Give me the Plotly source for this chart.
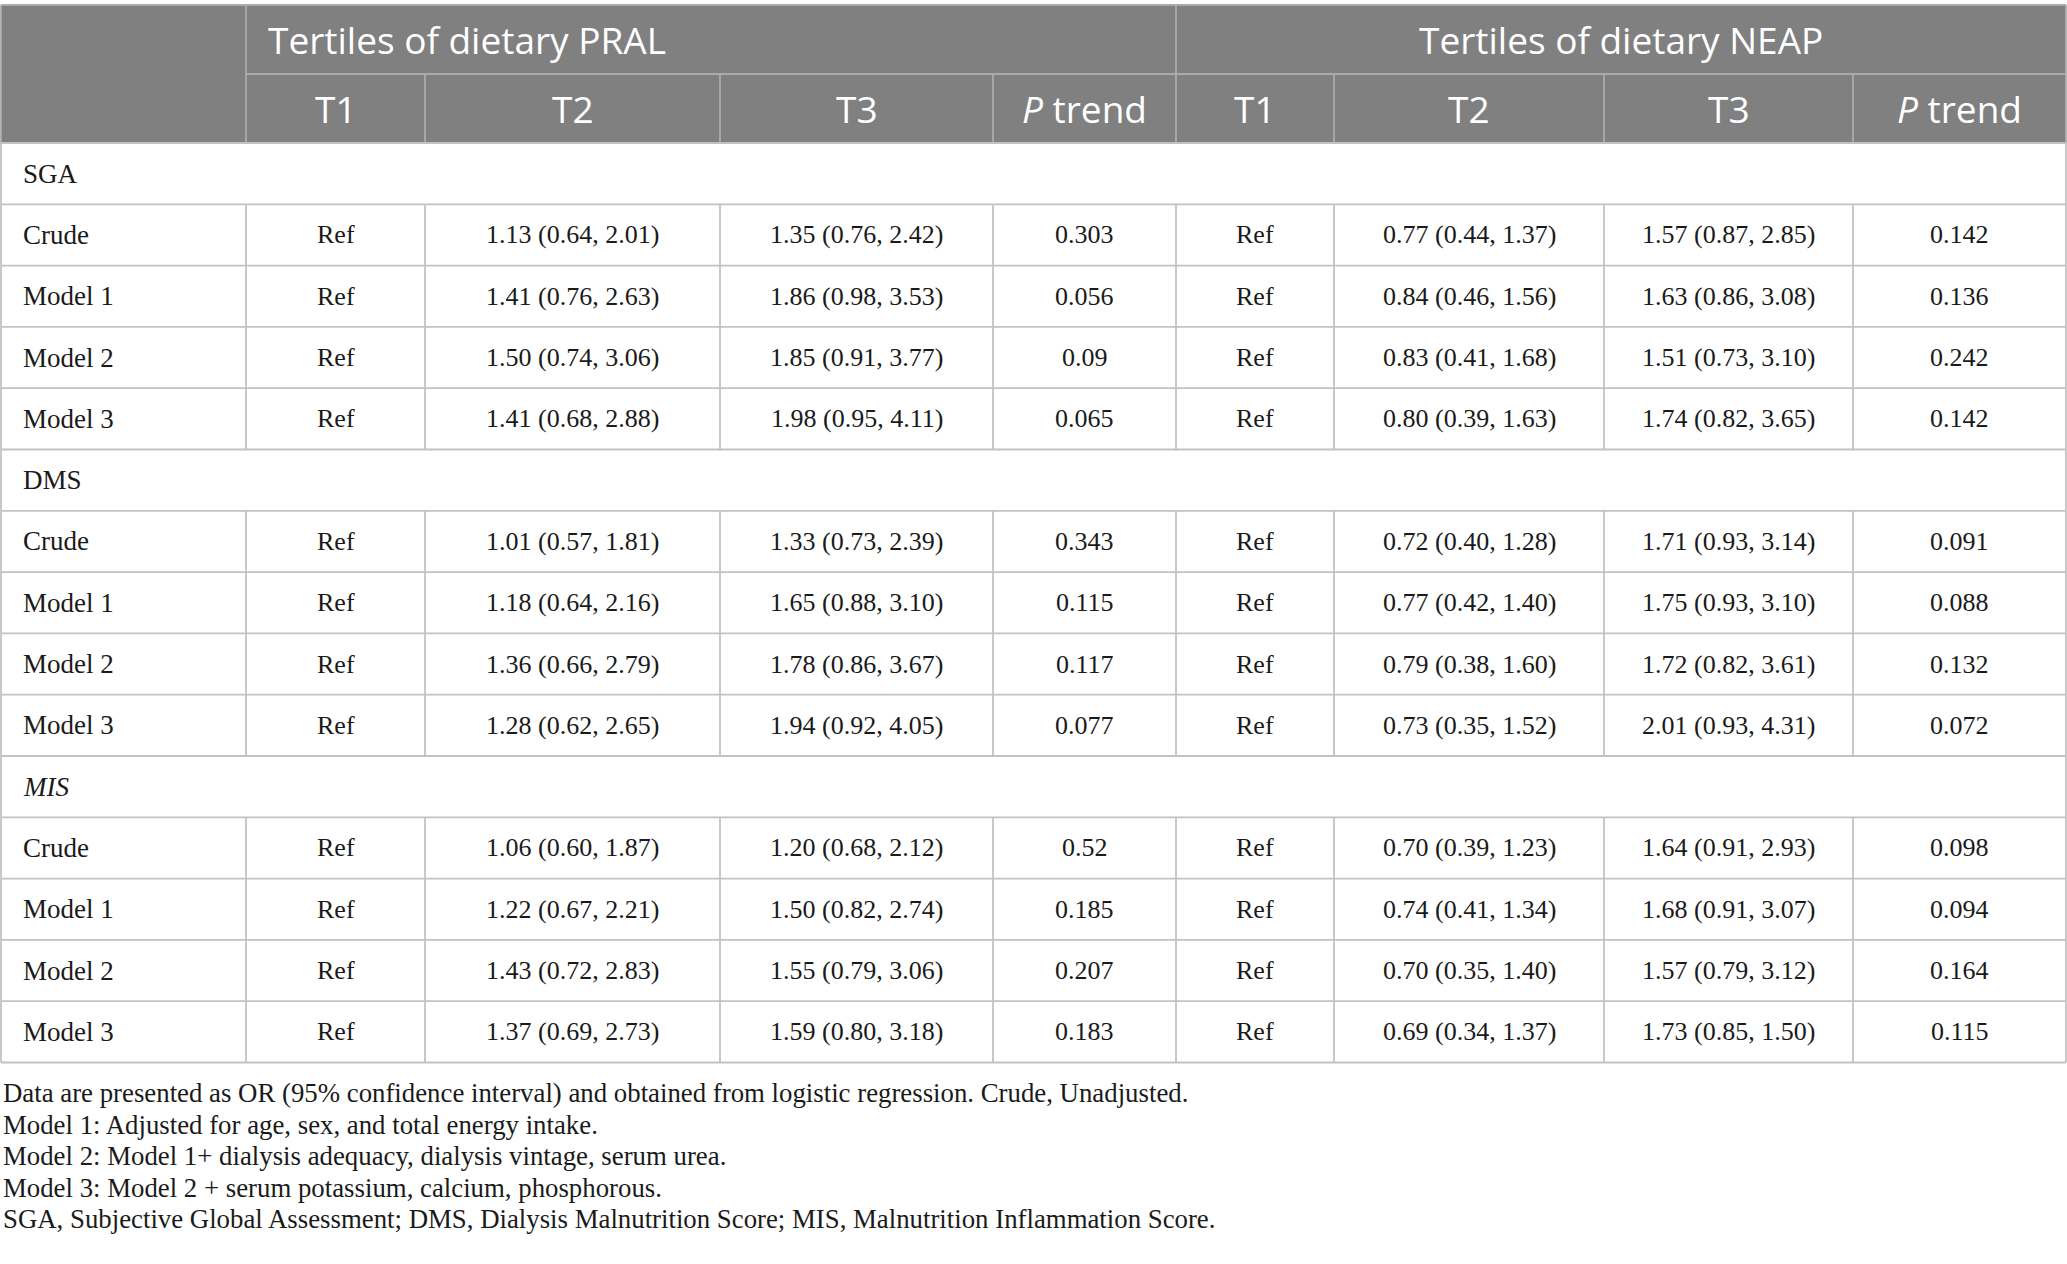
import plotly.graph_objs as go

# ---- data ----
groups = ["SGA", "DMS", "<i>MIS</i>"]
models = ["Crude", "Model 1", "Model 2", "Model 3"]
t1_ref = "Ref"

pral_t2 = ["1.13 (0.64, 2.01)", "1.41 (0.76, 2.63)", "1.50 (0.74, 3.06)", "1.41 (0.68, 2.88)",
           "1.01 (0.57, 1.81)", "1.18 (0.64, 2.16)", "1.36 (0.66, 2.79)", "1.28 (0.62, 2.65)",
           "1.06 (0.60, 1.87)", "1.22 (0.67, 2.21)", "1.43 (0.72, 2.83)", "1.37 (0.69, 2.73)"]
pral_t3 = ["1.35 (0.76, 2.42)", "1.86 (0.98, 3.53)", "1.85 (0.91, 3.77)", "1.98 (0.95, 4.11)",
           "1.33 (0.73, 2.39)", "1.65 (0.88, 3.10)", "1.78 (0.86, 3.67)", "1.94 (0.92, 4.05)",
           "1.20 (0.68, 2.12)", "1.50 (0.82, 2.74)", "1.55 (0.79, 3.06)", "1.59 (0.80, 3.18)"]
pral_p = ["0.303", "0.056", "0.09", "0.065",
          "0.343", "0.115", "0.117", "0.077",
          "0.52", "0.185", "0.207", "0.183"]
neap_t2 = ["0.77 (0.44, 1.37)", "0.84 (0.46, 1.56)", "0.83 (0.41, 1.68)", "0.80 (0.39, 1.63)",
           "0.72 (0.40, 1.28)", "0.77 (0.42, 1.40)", "0.79 (0.38, 1.60)", "0.73 (0.35, 1.52)",
           "0.70 (0.39, 1.23)", "0.74 (0.41, 1.34)", "0.70 (0.35, 1.40)", "0.69 (0.34, 1.37)"]
neap_t3 = ["1.57 (0.87, 2.85)", "1.63 (0.86, 3.08)", "1.51 (0.73, 3.10)", "1.74 (0.82, 3.65)",
           "1.71 (0.93, 3.14)", "1.75 (0.93, 3.10)", "1.72 (0.82, 3.61)", "2.01 (0.93, 4.31)",
           "1.64 (0.91, 2.93)", "1.68 (0.91, 3.07)", "1.57 (0.79, 3.12)", "1.73 (0.85, 1.50)"]
neap_p = ["0.142", "0.136", "0.242", "0.142",
          "0.091", "0.088", "0.132", "0.072",
          "0.098", "0.094", "0.164", "0.115"]

span_titles = ["Tertiles of dietary PRAL", "Tertiles of dietary NEAP"]
sub_heads = ["T1", "T2", "T3", "<i>P</i> trend", "T1", "T2", "T3", "<i>P</i> trend"]

footnotes = [
    "Data are presented as OR (95% confidence interval) and obtained from logistic regression. Crude, Unadjusted.",
    "Model 1: Adjusted for age, sex, and total energy intake.",
    "Model 2: Model 1+ dialysis adequacy, dialysis vintage, serum urea.",
    "Model 3: Model 2 + serum potassium, calcium, phosphorous.",
    "SGA, Subjective Global Assessment; DMS, Dialysis Malnutrition Score; MIS, Malnutrition Inflammation Score.",
]

# ---- layout geometry (page pixels) ----
W, H = 2067, 1264
edges = [1, 246, 425, 720, 993, 1176, 1334, 1604, 1853, 2066]
top, h1, h2 = 5, 74, 143
row_h = 61.3
n_rows = len(groups) * (len(models) + 1)
bottom = h2 + row_h * n_rows

HEAD_BG = "#808080"
HEAD_LINE = "#ababab"
BODY_LINE = "#c2c2c2"
SANS = "Open Sans"
SERIF = "Liberation Serif"

fig = go.Figure()
shapes = []
ann = []


def line(x0, y0, x1, y1, color, w=1.8):
    shapes.append(dict(type="line", xref="x", yref="y", x0=x0, y0=y0, x1=x1, y1=y1,
                       line=dict(color=color, width=w)))


def text(x, y, s, anchor="center", size=26, font=SERIF, color="#1a1a1a"):
    ann.append(dict(x=x, y=y, xref="x", yref="y", text=s, showarrow=False,
                    xanchor=anchor, yanchor="middle",
                    font=dict(family=font, size=size, color=color)))


# header block
shapes.append(dict(type="rect", xref="x", yref="y", x0=edges[0], x1=edges[-1], y0=top, y1=h2,
                   fillcolor=HEAD_BG, line=dict(width=0), layer="below"))
line(edges[0], top, edges[-1], top, HEAD_LINE)
line(edges[1], h1, edges[-1], h1, HEAD_LINE)
for i, x in enumerate(edges):
    if i in (0, 1, 5, 9):
        line(x, top, x, h2, HEAD_LINE)
    else:
        line(x, h1, x, h2, HEAD_LINE)

text(edges[1] + 20, (top + h1) / 2, span_titles[0], anchor="left", size=37, font=SANS, color="white")
text((edges[5] + edges[9]) / 2, (top + h1) / 2, span_titles[1], size=37, font=SANS, color="white")
for j, s in enumerate(sub_heads):
    text((edges[j + 1] + edges[j + 2]) / 2, (h1 + h2) / 2, s, size=37, font=SANS, color="white")

# body
cols = [pral_t2, pral_t3, pral_p, neap_t2, neap_t3, neap_p]
r = 0
k = 0
for g in groups:
    y0 = h2 + r * row_h
    line(edges[0], y0, edges[-1], y0, BODY_LINE)
    line(edges[0], y0, edges[0], y0 + row_h, BODY_LINE)
    line(edges[-1], y0, edges[-1], y0 + row_h, BODY_LINE)
    text(edges[0] + 20, y0 + row_h / 2, g, anchor="left", size=27)
    r += 1
    for m in models:
        y0 = h2 + r * row_h
        yc = y0 + row_h / 2
        line(edges[0], y0, edges[-1], y0, BODY_LINE)
        for x in edges:
            line(x, y0, x, y0 + row_h, BODY_LINE)
        text(edges[0] + 20, yc, m, anchor="left", size=27)
        vals = [t1_ref, cols[0][k], cols[1][k], cols[2][k], t1_ref, cols[3][k], cols[4][k], cols[5][k]]
        for j, v in enumerate(vals):
            text((edges[j + 1] + edges[j + 2]) / 2, yc, v)
        r += 1
        k += 1
line(edges[0], bottom, edges[-1], bottom, BODY_LINE, 2.2)

# footnotes
for i, s in enumerate(footnotes):
    text(1, 1093 + i * 31.6, s, anchor="left", size=26.8)

fig.add_trace(go.Scatter(x=[0, W], y=[0, H], mode="markers", marker=dict(opacity=0),
                         hoverinfo="skip", showlegend=False))
fig.update_layout(width=W, height=H, margin=dict(l=0, r=0, t=0, b=0),
                  paper_bgcolor="white", plot_bgcolor="white",
                  shapes=shapes, annotations=ann, showlegend=False,
                  xaxis=dict(range=[0, W], visible=False, fixedrange=True),
                  yaxis=dict(range=[H, 0], visible=False, fixedrange=True))
# drop the default page margin so the figure sits at the window corner
fig.write_html("out.html", config={"displayModeBar": False},
               post_script="document.body.style.margin='0';document.body.style.overflow='hidden';")
